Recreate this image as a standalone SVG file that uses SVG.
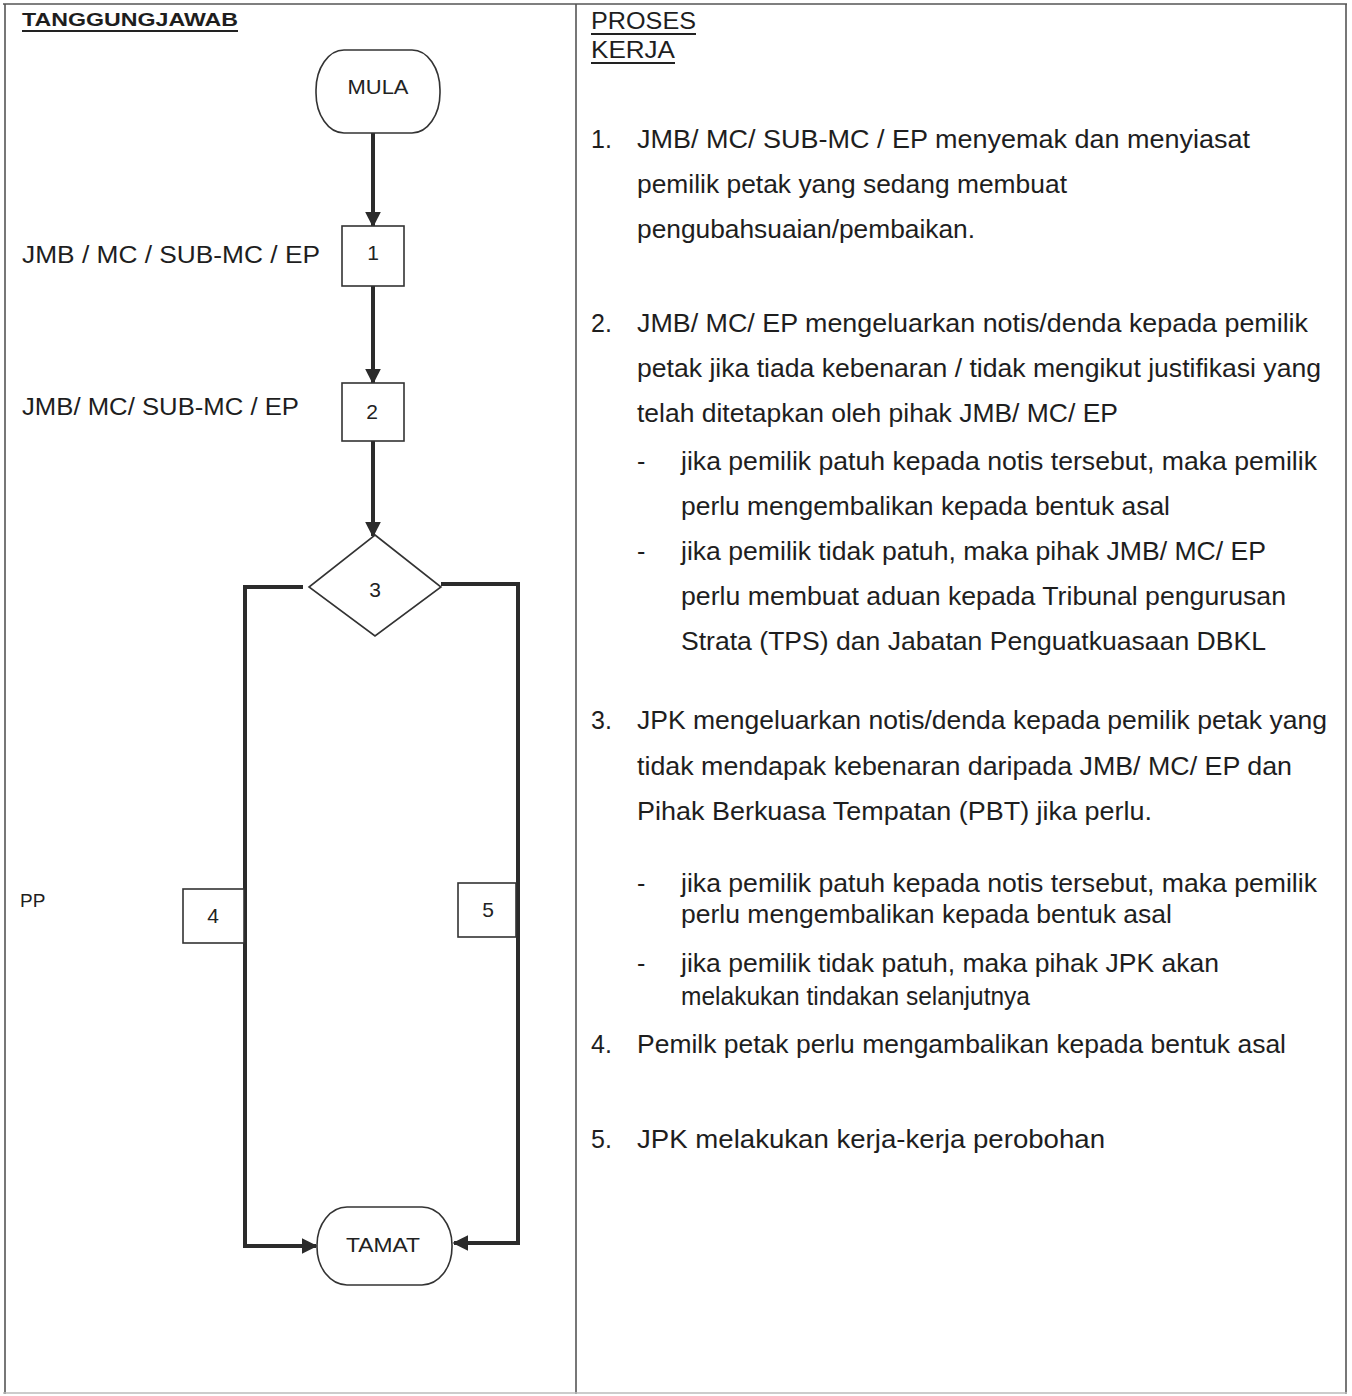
<svg xmlns="http://www.w3.org/2000/svg" width="1352" height="1396" viewBox="0 0 1352 1396">
<style>
.t{font-family:"Liberation Sans",Arial,sans-serif;fill:#1e1e1e}
.r{font-size:25px}
.l{font-size:23px}
.n{font-size:21px;text-anchor:middle;font-family:"Liberation Sans",Arial,sans-serif;fill:#222}
.box{fill:#fff;stroke:#333;stroke-width:1.6}
.conn{fill:none;stroke:#2b2b2b;stroke-width:4}
.hd{font-weight:bold}
</style>
<defs>
<marker id="ah" viewBox="0 0 10 10" refX="9" refY="5" markerWidth="4" markerHeight="4" markerUnits="strokeWidth" orient="auto">
<path d="M0,0 L10,5 L0,10 z" fill="#2b2b2b"/>
</marker>
</defs>
<rect width="1352" height="1396" fill="#fff"/>
<g id="table" fill="none" stroke="#555" stroke-width="1.6">
<line x1="3" y1="4" x2="1347" y2="4"/>
<line x1="5" y1="4" x2="5" y2="1394"/>
<line x1="576" y1="4" x2="576" y2="1394"/>
<line x1="1346" y1="4" x2="1346" y2="1394"/>
<line x1="3" y1="1393" x2="1347" y2="1393" stroke="#bbb"/>
</g>
<g id="headers">
<text class="t hd" x="22" y="26" font-size="18" textLength="216" lengthAdjust="spacingAndGlyphs">TANGGUNGJAWAB</text>
<line x1="22" y1="31" x2="238" y2="31" stroke="#222" stroke-width="2"/>
<text class="t" x="591" y="29" font-size="23" textLength="105" lengthAdjust="spacingAndGlyphs">PROSES</text>
<line x1="591" y1="34" x2="696" y2="34" stroke="#222" stroke-width="2"/>
<text class="t" x="591" y="58" font-size="23" textLength="84" lengthAdjust="spacingAndGlyphs">KERJA</text>
<line x1="591" y1="63" x2="675" y2="63" stroke="#222" stroke-width="2"/>
</g>
<g id="connectors">
<line class="conn" x1="373" y1="133" x2="373" y2="226" marker-end="url(#ah)"/>
<line class="conn" x1="373" y1="286" x2="373" y2="383" marker-end="url(#ah)"/>
<line class="conn" x1="373" y1="441" x2="373" y2="536" marker-end="url(#ah)"/>
<polyline class="conn" points="303,587 245,587 245,1246 316,1246" marker-end="url(#ah)"/>
<polyline class="conn" points="441,584 518,584 518,1243 454,1243" marker-end="url(#ah)"/>
</g>
<g id="mula">
<rect class="box" x="316" y="50" width="124" height="83" rx="28" ry="40"/>
<text class="n" x="378" y="94" textLength="61" lengthAdjust="spacingAndGlyphs">MULA</text>
</g>
<g id="step1">
<text class="t l" x="22" y="263" textLength="298" lengthAdjust="spacingAndGlyphs">JMB / MC /  SUB-MC  / EP</text>
<rect class="box" x="342" y="226" width="62" height="60"/>
<text class="n" x="373" y="260">1</text>
</g>
<g id="step2">
<text class="t l" x="22" y="415" textLength="277" lengthAdjust="spacingAndGlyphs">JMB/ MC/  SUB-MC / EP</text>
<rect class="box" x="342" y="383" width="62" height="58"/>
<text class="n" x="372" y="419">2</text>
</g>
<g id="step3">
<polygon class="box" points="375,535 441,587 375,636 309,587"/>
<text class="n" x="375" y="597">3</text>
</g>
<g id="step4">
<text class="t" x="20" y="907" font-size="19">PP</text>
<rect class="box" x="183" y="889" width="61" height="54"/>
<text class="n" x="213" y="923">4</text>
</g>
<g id="step5">
<rect class="box" x="458" y="883" width="58" height="54"/>
<text class="n" x="488" y="917">5</text>
</g>
<g id="tamat">
<rect class="box" x="317" y="1207" width="135" height="78" rx="30" ry="38"/>
<text class="n" x="383" y="1252" textLength="74" lengthAdjust="spacingAndGlyphs">TAMAT</text>
</g>
<g id="proses" class="t r">
<text x="591" y="148">1.</text>
<text x="637" y="148" textLength="613" lengthAdjust="spacingAndGlyphs">JMB/ MC/  SUB-MC / EP  menyemak dan menyiasat</text>
<text x="637" y="193" textLength="430" lengthAdjust="spacingAndGlyphs">pemilik petak yang sedang membuat</text>
<text x="637" y="238" textLength="338" lengthAdjust="spacingAndGlyphs">pengubahsuaian/pembaikan.</text>

<text x="591" y="332">2.</text>
<text x="637" y="332" textLength="671" lengthAdjust="spacingAndGlyphs">JMB/ MC/ EP  mengeluarkan notis/denda kepada pemilik</text>
<text x="637" y="377" textLength="684" lengthAdjust="spacingAndGlyphs">petak jika tiada kebenaran / tidak mengikut justifikasi yang</text>
<text x="637" y="422" textLength="481" lengthAdjust="spacingAndGlyphs">telah ditetapkan oleh pihak JMB/ MC/ EP</text>
<text x="637" y="470">-</text>
<text x="681" y="470" textLength="636" lengthAdjust="spacingAndGlyphs">jika pemilik patuh kepada notis tersebut, maka pemilik</text>
<text x="681" y="515" textLength="489" lengthAdjust="spacingAndGlyphs">perlu mengembalikan kepada bentuk asal</text>
<text x="637" y="560">-</text>
<text x="681" y="560" textLength="585" lengthAdjust="spacingAndGlyphs">jika pemilik tidak patuh, maka pihak JMB/ MC/ EP</text>
<text x="681" y="605" textLength="605" lengthAdjust="spacingAndGlyphs">perlu membuat aduan kepada Tribunal pengurusan</text>
<text x="681" y="650" textLength="585" lengthAdjust="spacingAndGlyphs">Strata (TPS) dan Jabatan Penguatkuasaan DBKL</text>

<text x="591" y="729">3.</text>
<text x="637" y="729" textLength="690" lengthAdjust="spacingAndGlyphs">JPK mengeluarkan notis/denda kepada pemilik petak yang</text>
<text x="637" y="775" textLength="655" lengthAdjust="spacingAndGlyphs">tidak mendapak kebenaran daripada JMB/ MC/ EP  dan</text>
<text x="637" y="820" textLength="515" lengthAdjust="spacingAndGlyphs">Pihak Berkuasa Tempatan (PBT)  jika perlu.</text>
<text x="637" y="892">-</text>
<text x="681" y="892" textLength="636" lengthAdjust="spacingAndGlyphs">jika pemilik patuh kepada notis tersebut, maka pemilik</text>
<text x="681" y="923" textLength="491" lengthAdjust="spacingAndGlyphs">perlu mengembalikan kepada bentuk asal</text>
<text x="637" y="972">-</text>
<text x="681" y="972" textLength="538" lengthAdjust="spacingAndGlyphs">jika pemilik tidak patuh, maka pihak JPK akan</text>
<text x="681" y="1005" textLength="349" lengthAdjust="spacingAndGlyphs">melakukan tindakan selanjutnya</text>

<text x="591" y="1053">4.</text>
<text x="637" y="1053" textLength="649" lengthAdjust="spacingAndGlyphs">Pemilk petak perlu mengambalikan kepada bentuk asal</text>

<text x="591" y="1148">5.</text>
<text x="637" y="1148" textLength="468" lengthAdjust="spacingAndGlyphs">JPK melakukan kerja-kerja perobohan</text>
</g>
</svg>
